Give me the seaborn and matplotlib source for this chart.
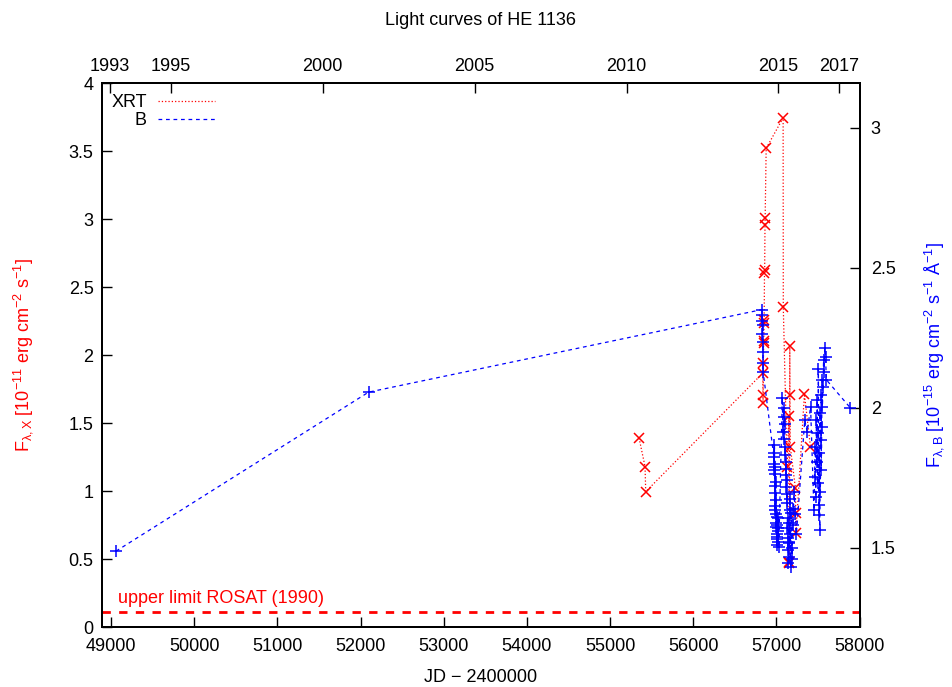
import numpy as np
import pandas as pd
import matplotlib
matplotlib.use("Agg")
import matplotlib.pyplot as plt
from matplotlib.lines import Line2D
import seaborn as sns

# ---------------- data ----------------
xrt_jd = [55348, 55420, 55428,
          56836, 56838, 56840, 56842, 56846, 56848, 56850, 56852, 56856, 56858,
          56862, 56864, 56876,
          57080, 57082, 57128, 57148, 57150, 57156, 57160, 57162, 57166,
          57228, 57232, 57234, 57336, 57408]
xrt_flux = [1.39, 1.18, 0.995,
            1.868, 1.645, 1.706, 1.94, 2.09, 2.10, 2.235, 2.26, 2.605, 2.625,
            2.96, 3.01, 3.52,
            3.745, 2.35, 1.18, 1.55, 0.48, 0.468, 2.066, 1.706, 1.326,
            1.02, 0.836, 0.69, 1.713, 1.326]

b_jd = [49060, 52096,
        56826, 56828, 56830, 56832, 56834, 56836, 56837, 56838, 56840,
        56968, 56970, 56972, 56974, 56976, 56978, 56980, 56982, 56984, 56986,
        56988, 56990, 56992, 56996, 56998, 57000, 57002, 57004, 57006, 57008,
        57010, 57012, 57016, 57018, 57022, 57024, 57028,
        57070, 57078, 57086, 57092, 57096, 57100, 57104, 57108, 57110, 57114,
        57116, 57120, 57122, 57126, 57128, 57132, 57134, 57138, 57140, 57144,
        57146, 57150, 57152, 57156, 57158, 57162, 57166, 57170, 57176, 57182,
        57188, 57196, 57204, 57214, 57226, 57240,
        57340, 57370, 57410,
        57450, 57458, 57466, 57472, 57478, 57484, 57490, 57494, 57500, 57504,
        57508, 57512, 57516, 57520, 57524, 57528, 57532, 57536, 57540, 57544,
        57548, 57552, 57560, 57566, 57572, 57580, 57590, 57600,
        57888]
b_flux = [1.488, 2.056,
          2.351, 2.312, 2.33, 2.265, 2.295, 2.236, 2.2, 2.159, 2.129,
          1.825, 1.84, 1.777, 1.80, 1.867, 1.79, 1.72, 1.635, 1.765, 1.65,
          1.695, 1.62, 1.736, 1.67, 1.59, 1.575, 1.51, 1.55, 1.61, 1.53,
          1.54, 1.58, 1.56, 1.52, 1.605, 1.57, 1.504,
          2.034, 1.914, 1.998, 1.89, 1.968, 1.944, 1.83, 1.86, 1.807, 1.759,
          1.783, 1.717, 1.741, 1.659, 1.693, 1.569, 1.605, 1.492, 1.534, 1.444,
          1.468, 1.52, 1.587, 1.516, 1.635, 1.676, 1.551, 1.432, 1.623, 1.50,
          1.46, 1.58, 1.64, 1.70, 1.62, 1.55,
          1.956, 1.914, 2.004,
          1.635, 1.753, 1.861, 1.682, 1.956, 1.807, 2.027, 1.73, 1.909, 2.14,
          1.652, 1.617, 1.837, 1.563, 1.98, 1.70, 1.885, 2.045, 1.777, 1.932,
          2.099, 2.004, 2.075, 2.17, 2.129, 2.214, 2.18, 2.10,
          2.0]

rosat_limit = 0.11
rosat_label = "upper limit ROSAT (1990)"

year_labels = ["1993", "1995", "2000", "2005", "2010", "2015", "2017"]
year_jd = [48988.5, 49718.5, 51544.5, 53371.5, 55197.5, 57023.5, 57754.5]

left_ticks = [0, 0.5, 1, 1.5, 2, 2.5, 3, 3.5, 4]
left_ticklabels = ["0", "0.5", "1", "1.5", "2", "2.5", "3", "3.5", "4"]
right_ticks = [1.5, 2, 2.5, 3]
right_ticklabels = ["1.5", "2", "2.5", "3"]
bottom_ticks = [49000, 50000, 51000, 52000, 53000, 54000, 55000, 56000, 57000, 58000]

# ---------------- style ----------------
sns.set_theme(style="white")
plt.rcParams['font.family'] = ['Liberation Sans', 'DejaVu Sans']
plt.rcParams['mathtext.fontset'] = 'custom'
plt.rcParams['mathtext.rm'] = 'Liberation Sans'
plt.rcParams['mathtext.it'] = 'Liberation Sans'
plt.rcParams['mathtext.sf'] = 'Liberation Sans'
plt.rcParams['text.color'] = 'black'
plt.rcParams['axes.labelcolor'] = 'black'
plt.rcParams['xtick.color'] = 'black'
plt.rcParams['ytick.color'] = 'black'
FS = 13

fig = plt.figure(figsize=(9.52, 6.87), dpi=100)
ax = fig.add_axes([0.107, 0.0873, 0.903 - 0.107, 0.879 - 0.0873])
ax2 = ax.twinx()
ax3 = ax.twiny()

xrt_df = pd.DataFrame({"jd": xrt_jd, "flux": xrt_flux})
b_df = pd.DataFrame({"jd": b_jd, "flux": b_flux})

# ROSAT limit
ax.axhline(rosat_limit, color="red", lw=2, ls=(0, (3, 3)))
ax.text(49080, rosat_limit + 0.1, rosat_label, color="red", fontsize=FS,
        ha="left", va="center")

# XRT
sns.lineplot(data=xrt_df, x="jd", y="flux", ax=ax, estimator=None, sort=False,
             color="red", lw=0.9, ls=":", marker="x", markersize=7,
             markeredgewidth=1.1, markeredgecolor="red", zorder=3)

# B
sns.lineplot(data=b_df, x="jd", y="flux", ax=ax2, estimator=None, sort=False,
             color="blue", lw=0.9, ls=(0, (3, 3)), marker="+", markersize=9,
             markeredgewidth=1.1, markeredgecolor="blue", zorder=2)

ax.set_xlim(48890, 58000)
ax.set_ylim(0, 4)
ax2.set_ylim(1.217, 3.16)
ax3.set_xlim(48890, 58000)

ax.set_xticks(bottom_ticks)
ax.set_xticklabels([str(t) for t in bottom_ticks])
ax.set_yticks(left_ticks)
ax.set_yticklabels(left_ticklabels)
ax2.set_yticks(right_ticks)
ax2.set_yticklabels(right_ticklabels)
ax3.set_xticks(year_jd)
ax3.set_xticklabels(year_labels)

for a in (ax, ax2, ax3):
    a.tick_params(direction="in", length=7, width=1, labelsize=FS,
                  color="black", labelcolor="black")
    for s in a.spines.values():
        s.set_color("black")
        s.set_linewidth(1.3)
ax.tick_params(axis="x", pad=8)
ax.tick_params(axis="y", pad=6)
ax2.tick_params(axis="y", pad=8)
ax3.tick_params(axis="x", pad=6)

ax.set_xlabel("JD \u2212 2400000", fontsize=FS, labelpad=10, color="black")
ax.set_ylabel(r"F$_{\lambda,\mathrm{X}}$ [10$^{-11}$ erg cm$^{-2}$ s$^{-1}$]",
              color="red", fontsize=FS, labelpad=24)
ax2.set_ylabel(r"F$_{\lambda,\mathrm{B}}$ [10$^{-15}$ erg cm$^{-2}$ s$^{-1}$ $\mathrm{\AA}^{-1}$]",
               color="blue", fontsize=FS, labelpad=19)
ax.set_title("Light curves of HE 1136", fontsize=FS, pad=42, color="black")

handles = [Line2D([], [], color="red", ls=":", lw=0.9),
           Line2D([], [], color="blue", ls=(0, (3, 3)), lw=0.9)]
leg = ax.legend(handles, ["XRT", "B"], loc="upper left", frameon=False,
                markerfirst=False, fontsize=FS, handlelength=3.2,
                handletextpad=0.6, labelspacing=0.05, borderaxespad=0.2,
                borderpad=0.2, bbox_to_anchor=(0.003, 0.993))

fig.savefig("out.png", dpi=100)
